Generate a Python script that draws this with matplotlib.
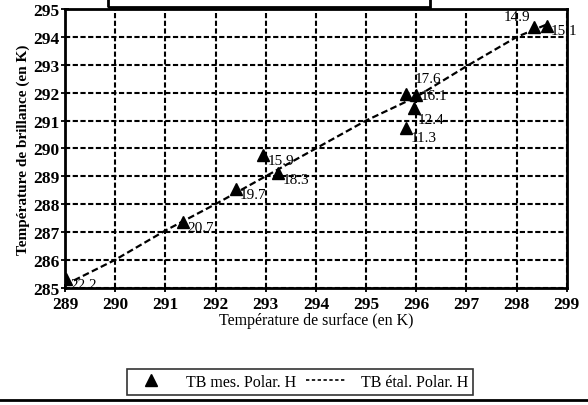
import matplotlib
matplotlib.use("Agg")
import matplotlib.pyplot as plt
from matplotlib.patches import Rectangle
from matplotlib.lines import Line2D

plt.rcParams['font.family'] = ['Liberation Serif', 'DejaVu Serif']

# Measured points (surface temperature, brightness temperature, label)
ts_mes = [289.02, 291.35, 292.4, 292.95, 293.25, 295.8, 295.95, 295.8, 296.0, 298.35, 298.6]
tb_mes = [285.3, 287.35, 288.55, 289.75, 289.1, 290.75, 291.45, 291.95, 291.9, 294.35, 294.4]
labels = ["22.2", "20.7", "19.7", "15.9", "18.3", "11.3", "12.4", "17.6", "16.1", "14.9", "15.1"]
# label offsets in points (dx, dy)
offsets = [(3, -4), (3, -4), (3, -4), (3, -4), (3, -4), (3, -7), (3, -8),
           (6, 11), (3, 0), (-22, 8), (3, -3)]

# Calibration line
ts_cal = [289.0, 290.0, 291.0, 292.0, 293.0, 295.0, 296.0, 297.0, 298.0, 298.6]
tb_cal = [285.1, 286.0, 287.05, 288.0, 289.0, 291.0, 291.85, 292.95, 294.0, 294.45]

xticks = list(range(289, 300))
yticks = list(range(285, 296))

fig = plt.figure(figsize=(5.88, 4.06), dpi=100)
ax = fig.add_axes([0.1105, 0.289, 0.8535, 0.686])

ax.plot(ts_cal, tb_cal, color='black', linestyle=(0, (3, 1.5)), linewidth=1.6, zorder=3)
ax.plot(ts_mes, tb_mes, linestyle='none', marker='^', color='black', markersize=8, zorder=4)
for (x, y, t), off in zip(zip(ts_mes, tb_mes, labels), offsets):
    ax.annotate(t, (x, y), xytext=off, textcoords='offset points', fontsize=11,
                ha='left', va='center', zorder=5, annotation_clip=False)

ax.set_xlim(289, 299)
ax.set_ylim(285, 295)
ax.set_xticks(xticks)
ax.set_yticks(yticks)
ax.set_xticklabels([str(v) for v in xticks], fontsize=12.5, fontweight='bold')
ax.set_yticklabels([str(v) for v in yticks], fontsize=12.5, fontweight='bold')
ax.tick_params(direction='inout', length=6, width=1.3, pad=1)
ax.tick_params(axis='x', pad=3)
ax.grid(True, color='black', linestyle=(0, (2.5, 1.2)), linewidth=1.5)
for s in ax.spines.values():
    s.set_linewidth(2)
ax.set_xlabel("Température de surface (en K)", fontsize=11.5, labelpad=0)
ax.set_ylabel("Température de brillance (en K)", fontsize=11, fontweight='bold', labelpad=2)

# partial box at top
fig.add_artist(Rectangle((108/588, 1 - 8/406), (430 - 108)/588, 0.05,
                         transform=fig.transFigure, fill=False, edgecolor='black', linewidth=2))

# legend
handles = [Line2D([], [], linestyle='none', marker='^', color='black', markersize=8),
           Line2D([], [], color='black', linestyle=(0, (2, 1.5)), linewidth=1.2)]
leg = fig.legend(handles, ["TB mes. Polar. H", "TB étal. Polar. H"], ncol=2,
                 loc='center', bbox_to_anchor=(300/588, 1 - 383/406), frameon=True,
                 fancybox=False, edgecolor='black', fontsize=11.5, handlelength=2.4,
                 columnspacing=0.6, borderpad=0.3, handletextpad=1.0)
leg.get_frame().set_linewidth(1.2)

# bottom rule
fig.add_artist(Line2D([0, 1], [1 - 401/406, 1 - 401/406], transform=fig.transFigure,
                      color='black', linewidth=2))

fig.savefig("out.png", dpi=100)
